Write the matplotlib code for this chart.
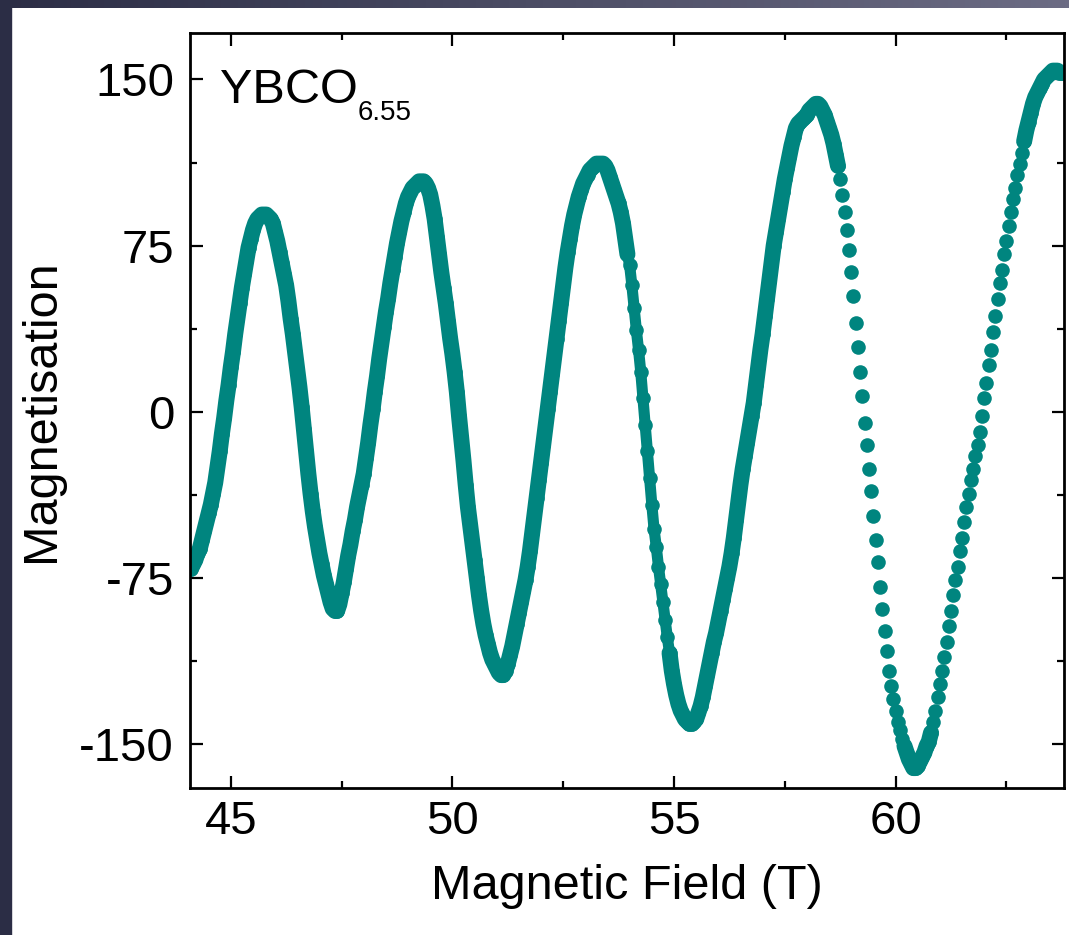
import numpy as np
import matplotlib
matplotlib.use("Agg")
import matplotlib.pyplot as plt
from matplotlib.ticker import MultipleLocator

# magnetisation, one value every 0.05 T starting at 44.10 T
magnetisation = [
    -71, -69, -67, -64, -62, -58, -54, -50, -46, -42, -37, -32, -25, -18, -10, -3, 5, 12, 20, 27,          # 44.10
    35, 42, 49, 56, 62, 68, 74, 78, 82, 85, 87, 88, 89, 89, 89, 88, 87, 85, 81, 77,                        # 45.10
    72, 67, 62, 57, 50, 42, 35, 27, 19, 11, 2, -8, -18, -28, -37, -45, -52, -58, -64, -69,                 # 46.10
    -74, -78, -82, -86, -89, -90, -90, -87, -82, -77, -71, -65, -60, -54, -49, -43, -38, -33, -28, -21,    # 47.10
    -14, -6, 1, 9, 16, 24, 31, 38, 45, 51, 58, 64, 70, 76, 81, 86, 90, 94, 97, 99,                         # 48.10
    101, 102, 103, 104, 104, 104, 103, 101, 98, 93, 87, 79, 71, 63, 56, 49, 41, 33, 26, 18,                # 49.10
    9, -2, -12, -22, -33, -43, -51, -59, -67, -75, -83, -90, -96, -101, -105, -109, -112, -114, -116, -118,  # 50.10
    -119, -119, -117, -114, -110, -106, -101, -96, -91, -86, -81, -76, -70, -63, -55, -47, -39, -31, -23, -15,  # 51.10
    -7, 1, 9, 17, 25, 33, 41, 49, 57, 65, 72, 78, 84, 89, 93, 97, 100, 103, 105, 107,                      # 52.10
    109, 110, 111, 112, 112, 112, 112, 111, 109, 106, 103, 100, 97, 94, 90, 85, 78, 71, 66, 57,            # 53.10
    47, 37, 28, 18, 6, -6, -18, -30, -42, -53, -61, -70, -78, -86, -94, -102, -109, -117, -123, -128,      # 54.10
    -132, -135, -137, -139, -140, -141, -141, -140, -139, -136, -133, -129, -124, -119, -114, -109, -104, -100, -95, -90,  # 55.10
    -85, -80, -75, -70, -64, -57, -49, -41, -33, -26, -20, -14, -8, -2, 4, 12, 20, 28, 35, 43,             # 56.10
    51, 59, 67, 75, 81, 87, 93, 99, 105, 110, 115, 120, 124, 128, 130, 131, 132, 133, 134, 136,            # 57.10
    137, 138, 139, 139, 138, 136, 134, 131, 128, 125, 121, 116, 111, 105, 98, 90, 82, 73, 63, 52,          # 58.10
    40, 29, 18, 7, -5, -15, -26, -36, -47, -58, -68, -79, -89, -99, -108, -117, -124, -130, -135, -140,    # 59.10
    -144, -148, -151, -154, -157, -159, -161, -161, -160, -158, -156, -154, -151, -149, -145, -140, -135, -129, -123, -117,  # 60.10
    -111, -104, -97, -90, -83, -76, -70, -63, -57, -50, -43, -37, -31, -26, -20, -15, -9, -2, 6, 13,       # 61.10
    21, 28, 36, 43, 51, 58, 64, 71, 77, 84, 90, 96, 101, 107, 112, 117, 122, 127, 131, 135,                # 62.10
    139, 142, 144, 146, 148, 150, 151, 152, 153, 154, 154, 154, 153, 153, 153,                             # 63.10
]
field = 44.10 + 0.05 * np.arange(len(magnetisation))

x_ticks = [45, 50, 55, 60]
y_ticks = [-150, -75, 0, 75, 150]

plt.rcParams['font.family'] = ['Liberation Sans', 'DejaVu Sans']
plt.rcParams['axes.unicode_minus'] = False

teal = '#00857f'

fig = plt.figure(figsize=(10.69, 9.35), dpi=100)
fig.patch.set_facecolor('white')

# dark slide frame: left strip and a gradient strip along the top
fig.patches.append(plt.Rectangle((0, 0), 11 / 1069, 1, transform=fig.transFigure,
                                 color='#2b2d45', zorder=0))
bar = fig.add_axes([0, 1 - 8 / 935, 1, 8 / 935])
grad = np.linspace(0, 1, 256)[None, :]
cmap = matplotlib.colors.LinearSegmentedColormap.from_list('frame', ['#2b2d45', '#6c6c84'])
bar.imshow(grad, aspect='auto', cmap=cmap, extent=[0, 1, 0, 1])
bar.axis('off')

ax = fig.add_axes([190 / 1069, 1 - 788 / 935, 874 / 1069, 755 / 935])

# where the measured points crowd together they merge into a solid band
m = np.array(magnetisation, dtype=float)
dense = (field <= 53.95) | ((field >= 54.9) & (field <= 58.7)) | \
        ((field >= 60.2) & (field <= 60.8)) | (field >= 62.9)
medium = (field >= 53.9) & (field <= 54.95)
ax.plot(field, np.where(medium, m, np.nan), '-', color=teal, lw=8)
ax.plot(field, np.where(dense, m, np.nan), '-', color=teal, lw=11.5,
        solid_capstyle='round', solid_joinstyle='round')
ax.plot(field, m, 'o', color=teal, markersize=10.5, markeredgewidth=0)

ax.set_xlim(44.08, 63.8)
ax.set_ylim(-170, 171)
ax.set_xticks(x_ticks)
ax.set_yticks(y_ticks)
ax.xaxis.set_minor_locator(MultipleLocator(2.5))
ax.yaxis.set_minor_locator(MultipleLocator(37.5))

ax.tick_params(which='both', direction='in', top=True, right=True, width=1.6)
ax.tick_params(which='major', length=9, labelsize=34)
ax.tick_params(which='minor', length=5)
ax.tick_params(axis='y', pad=11.5)
ax.tick_params(axis='x', pad=9)
for s in ax.spines.values():
    s.set_linewidth(2)

ax.set_xlabel('Magnetic Field (T)', fontsize=35, labelpad=14)
ax.set_ylabel('Magnetisation', fontsize=35, labelpad=11)

ax.text(0.034, 0.907, 'YBCO', transform=ax.transAxes, fontsize=35, va='baseline')
ax.text(0.192, 0.885, '6.55', transform=ax.transAxes, fontsize=20, va='baseline')

fig.savefig('out.png', dpi=100)
